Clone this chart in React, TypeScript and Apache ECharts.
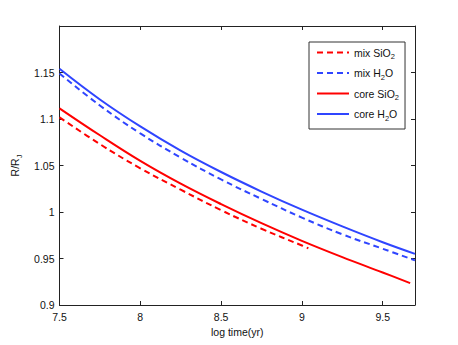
import React, { useEffect, useRef } from "react";
import * as echarts from "echarts";

const xCoreH2O = [7.5, 7.75, 8, 8.25, 8.5, 8.75, 9, 9.25, 9.5, 9.7];
const coreH2O = [1.154, 1.121, 1.092, 1.066, 1.043, 1.022, 1.0025, 0.9845, 0.9675, 0.955];
const xMixH2O = [7.5, 7.75, 8, 8.25, 8.5, 8.75, 9, 9.25, 9.5, 9.7];
const mixH2O = [1.149, 1.1145, 1.0845, 1.0585, 1.035, 1.014, 0.994, 0.976, 0.9605, 0.948];
const xCoreSiO2 = [7.5, 7.75, 8, 8.25, 8.5, 8.75, 9, 9.25, 9.5, 9.67];
const coreSiO2 = [1.1115, 1.0825, 1.055, 1.0305, 1.0085, 0.988, 0.969, 0.9515, 0.935, 0.9235];
const xMixSiO2 = [7.5, 7.75, 8, 8.25, 8.5, 8.75, 9, 9.04];
const mixSiO2 = [1.1018, 1.073, 1.047, 1.024, 1.002, 0.982, 0.964, 0.961];

const seriesNames = ["mix SiO2", "mix H2O", "core SiO2", "core H2O"];

const RED = "#ff0000";
const BLUE = "#2f45ff";
const FONT = "Liberation Sans, Arial, sans-serif";

const pairs = (xs: number[], ys: number[]) => xs.map((x, i) => [x, ys[i]]);

export default function App() {
  const ref = useRef<HTMLDivElement>(null);
  useEffect(() => {
    if (!ref.current) return;
    const chart = echarts.init(ref.current, null, { renderer: "svg" });
    const axisLine = { show: true, lineStyle: { color: "#222", width: 1 } };
    const tick = { show: true, inside: true, length: 4, lineStyle: { color: "#222" } };
    const subStyle = { fontSize: 7.5, fontFamily: FONT, color: "#111", padding: [8, 0, 0, 0] };
    const lineSeries = (name: string, xs: number[], ys: number[], color: string, dashed: boolean) => ({
      name,
      type: "line",
      data: pairs(xs, ys),
      showSymbol: false,
      symbol: "none",
      smooth: 0.4,
      lineStyle: { color, width: 2, type: dashed ? [6, 4] : "solid" },
      itemStyle: { color },
    });
    chart.setOption({
      animation: false,
      backgroundColor: "#fff",
      grid: { left: 59.5, right: 43, top: 26, bottom: 40 },
      xAxis: [
        {
          type: "value",
          min: 7.5,
          max: 9.7,
          interval: 0.5,
          position: "bottom",
          axisLine,
          axisTick: tick,
          splitLine: { show: false },
          axisLabel: {
            color: "#111",
            fontFamily: FONT,
            fontSize: 10.5,
            margin: 6,
            formatter: (v: number) => (Math.abs(v * 2 - Math.round(v * 2)) < 1e-6 ? String(v) : ""),
          },
          name: "log time(yr)",
          nameLocation: "middle",
          nameGap: 18,
          nameTextStyle: { color: "#111", fontFamily: FONT, fontSize: 10.5 },
        },
        {
          type: "value",
          min: 7.5,
          max: 9.7,
          interval: 0.5,
          position: "top",
          axisLine,
          axisTick: tick,
          splitLine: { show: false },
          axisLabel: { show: false },
        },
      ],
      yAxis: [
        {
          type: "value",
          min: 0.9,
          max: 1.2,
          interval: 0.05,
          position: "left",
          axisLine,
          axisTick: tick,
          splitLine: { show: false },
          axisLabel: {
            color: "#111",
            fontFamily: FONT,
            fontSize: 10.5,
            margin: 5,
            formatter: (v: number) => (v > 1.19 ? "" : String(Math.round(v * 100) / 100)),
          },
          name: "R/R{sub|J}",
          nameLocation: "middle",
          nameGap: 28,
          nameTextStyle: {
            color: "#111",
            fontFamily: FONT,
            fontSize: 10.5,
            rich: { sub: subStyle },
          },
        },
        {
          type: "value",
          min: 0.9,
          max: 1.2,
          interval: 0.05,
          position: "right",
          axisLine,
          axisTick: tick,
          splitLine: { show: false },
          axisLabel: { show: false },
        },
      ],
      legend: {
        orient: "vertical",
        left: 309,
        top: 42,
        data: seriesNames,
        backgroundColor: "#fff",
        borderColor: "#333",
        borderWidth: 1,
        borderRadius: 0,
        padding: [5, 6, 7, 7],
        itemWidth: 32,
        itemHeight: 12,
        itemGap: 7,
        itemStyle: { opacity: 0 },
        textStyle: {
          color: "#111",
          fontFamily: FONT,
          fontSize: 10.5,
          rich: { sub: subStyle },
        },
        formatter: (name: string) => name.replace("2", "{sub|2}"),
      },
      series: [
        lineSeries("mix SiO2", xMixSiO2, mixSiO2, RED, true),
        lineSeries("mix H2O", xMixH2O, mixH2O, BLUE, true),
        lineSeries("core SiO2", xCoreSiO2, coreSiO2, RED, false),
        lineSeries("core H2O", xCoreH2O, coreH2O, BLUE, false),
      ],
    });
    return () => chart.dispose();
  }, []);
  return (
    <div
      ref={ref}
      style={{ position: "fixed", left: 0, top: 0, width: 458, height: 345, background: "#fff" }}
    />
  );
}
